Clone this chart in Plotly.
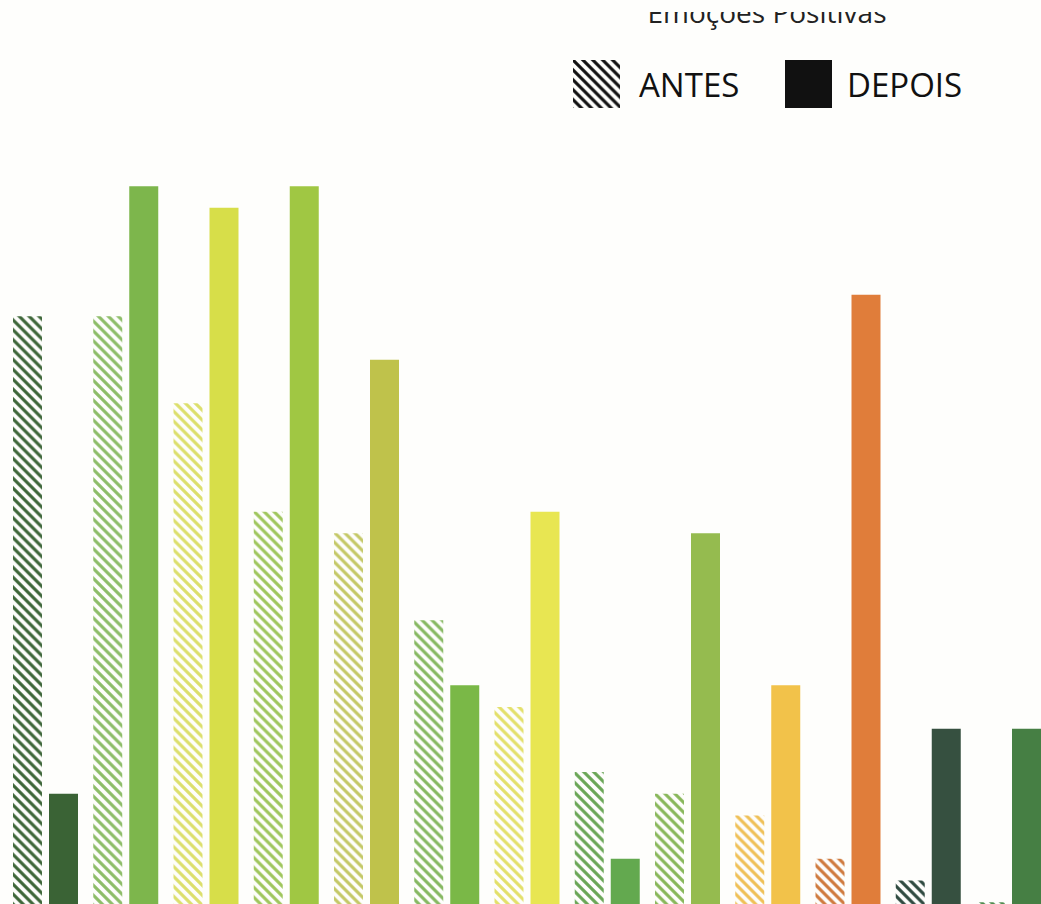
import plotly.graph_objects as go

# ---- data ----
categories = [f"Item {i}" for i in range(1, 14)]
antes = [28, 28, 24, 19, 18, 14, 10, 7, 6, 5, 3, 2, 1]
depois = [6, 34, 33, 34, 26, 11, 19, 3, 18, 11, 29, 9, 9]
antes_colors = ["#3d6638", "#8dbd68", "#dcdf6c", "#9fc65c", "#c4c866", "#86b861",
                "#e3e06a", "#6aa656", "#88b75a", "#efc056", "#cf7a3e", "#2f4a40", "#4d8a4d"]
depois_colors = ["#3a6335", "#7db64c", "#d7de49", "#a0c743", "#bfc24b", "#7ab847",
                 "#e8e652", "#63a94f", "#95bb4f", "#f2c24a", "#e07d3a", "#365040", "#467f44"]
title_text = "Emoções Positivas"
legend_labels = ["ANTES", "DEPOIS"]

W, H = 1041, 904
px_per_unit = 21.7
y_bottom = 0.92
y_top = y_bottom + H / px_per_unit

slot_px = 80.25
first_center_px = 45
x_lo = -first_center_px / slot_px
x_hi = (W - first_center_px) / slot_px

bw = 29 / slot_px
xs = list(range(len(categories)))

bg = "#fefefc"

fig = go.Figure()
fig.add_trace(go.Bar(
    x=xs, y=antes, width=bw, offset=-32 / slot_px,
    marker=dict(color=bg, line=dict(width=0),
                pattern=dict(shape="\\", size=7, solidity=0.45,
                             fgcolor=antes_colors, bgcolor=bg, fillmode="replace")),
    name=legend_labels[0], showlegend=False, hovertext=categories,
))
fig.add_trace(go.Bar(
    x=xs, y=depois, width=bw, offset=4 / slot_px,
    marker=dict(color=depois_colors, line=dict(width=0)),
    name=legend_labels[1], showlegend=False, hovertext=categories,
))

# legend swatches on a small inset axis
fig.add_trace(go.Bar(
    x=[0], y=[1], width=0.2217, offset=0, xaxis="x2", yaxis="y2",
    marker=dict(color=bg, line=dict(width=0),
                pattern=dict(shape="\\", size=7, solidity=0.45,
                             fgcolor="#111111", bgcolor=bg, fillmode="replace")),
    showlegend=False, hoverinfo="skip",
))
fig.add_trace(go.Bar(
    x=[1], y=[1], width=0.2217, offset=0, xaxis="x2", yaxis="y2",
    marker=dict(color="#111111", line=dict(width=0)),
    showlegend=False, hoverinfo="skip",
))

# title, clipped at its top like the reference
fig.add_trace(go.Scatter(
    x=[767], y=[16], mode="text", text=[title_text], textposition="middle center",
    textfont=dict(family="Open Sans", size=28, color="#222222"),
    cliponaxis=True, xaxis="x3", yaxis="y3", showlegend=False, hoverinfo="skip",
))

fig.update_layout(
    width=W, height=H,
    margin=dict(l=0, r=0, t=0, b=0),
    paper_bgcolor=bg, plot_bgcolor=bg,
    barmode="overlay",
    xaxis=dict(range=[x_lo, x_hi], visible=False, domain=[0, 1]),
    yaxis=dict(range=[y_bottom, y_top], visible=False, domain=[0, 1]),
    xaxis2=dict(range=[0, 1.2217], visible=False, domain=[573 / W, 832 / W], anchor="y2"),
    yaxis2=dict(range=[0, 1], visible=False, domain=[1 - 108 / H, 1 - 60 / H], anchor="x2"),
    xaxis3=dict(range=[0, W], visible=False, domain=[0, 1], anchor="y3"),
    yaxis3=dict(range=[50, 12], visible=False, domain=[1 - 50 / H, 1 - 12 / H], anchor="x3"),
    annotations=[
        dict(text=legend_labels[0], xref="paper", yref="paper", x=637 / W, y=1 - 84 / H,
             xanchor="left", yanchor="middle", showarrow=False,
             font=dict(family="Open Sans", size=33, color="#111111")),
        dict(text=legend_labels[1], xref="paper", yref="paper", x=845 / W, y=1 - 84 / H,
             xanchor="left", yanchor="middle", showarrow=False,
             font=dict(family="Open Sans", size=33, color="#111111")),
    ],
)

fig.write_html("out.html")
